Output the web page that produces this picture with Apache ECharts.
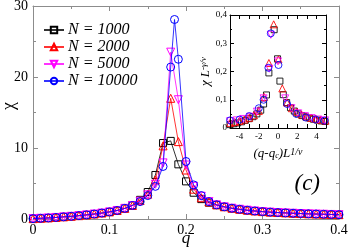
<!DOCTYPE html>
<html><head><meta charset="utf-8">
<script src="https://cdn.jsdelivr.net/npm/echarts@6/dist/echarts.min.js"></script>
<style>html,body{margin:0;padding:0;background:#fff}#c{width:349px;height:248px}</style>
</head><body><div id="c"></div>
<script>
// ---- main panel data ----
const q = [0,0.01,0.02,0.03,0.04,0.05,0.06,0.07,0.08,0.09,0.10,0.11,0.12,0.13,0.14,0.15,0.16,0.17,0.18,0.19,0.20,0.21,0.22,0.23,0.24,0.25,0.26,0.27,0.28,0.29,0.30,0.31,0.32,0.33,0.34,0.35,0.36,0.37,0.38,0.39,0.40];
const chi1000 = [0.05,0.1,0.15,0.22,0.3,0.38,0.47,0.58,0.7,0.84,1.0,1.2,1.5,1.95,2.7,3.8,6.2,10.7,11.0,7.7,5.3,3.7,2.8,2.3,1.95,1.7,1.5,1.35,1.22,1.12,1.03,0.96,0.9,0.85,0.8,0.76,0.72,0.69,0.66,0.63,0.6];
const chi2000 = [0.05,0.1,0.15,0.22,0.3,0.38,0.47,0.58,0.7,0.84,1.0,1.2,1.5,1.9,2.6,3.5,5.5,10.3,17.0,10.9,6.9,4.2,3.0,2.4,2.0,1.72,1.52,1.37,1.24,1.13,1.04,0.97,0.91,0.86,0.81,0.77,0.73,0.7,0.67,0.64,0.61];
const chi5000 = [0.05,0.1,0.15,0.22,0.3,0.38,0.47,0.58,0.7,0.84,1.0,1.2,1.5,1.9,2.5,3.4,4.9,7.9,23.5,16.8,7.6,4.6,3.2,2.45,2.0,1.72,1.52,1.37,1.24,1.13,1.04,0.97,0.91,0.86,0.81,0.77,0.73,0.7,0.67,0.64,0.61];
const q10000 = [0,0.01,0.02,0.03,0.04,0.05,0.06,0.07,0.08,0.09,0.10,0.11,0.12,0.13,0.14,0.15,0.16,0.17,0.18,0.185,0.19,0.20,0.21,0.22,0.23,0.24,0.25,0.26,0.27,0.28,0.29,0.30,0.31,0.32,0.33,0.34,0.35,0.36,0.37,0.38,0.39,0.40];
const chi10000 = [0.05,0.1,0.15,0.22,0.3,0.38,0.47,0.58,0.7,0.84,1.0,1.2,1.5,1.9,2.45,3.3,4.6,7.4,21.4,28.1,22.5,8.1,4.8,3.3,2.45,2.0,1.72,1.52,1.37,1.24,1.13,1.04,0.97,0.91,0.86,0.81,0.77,0.73,0.7,0.67,0.64,0.61];
const seriesNames = ['N = 1000','N = 2000','N = 5000','N = 10000'];
const mainTicksX = [0,0.1,0.2,0.3,0.4];
const mainTicksY = [0,10,20,30];

// ---- inset data (scaled) ----
const ix1000 = [-5.0,-4.6,-4.2,-3.8,-3.4,-3.0,-2.6,-2.2,-1.8,-1.5,-1.2,-0.95,-0.4,-0.05,0.2,0.55,0.9,1.3,1.7,2.1,2.5,2.9,3.3,3.7,4.1,4.5,4.9];
const iy1000 = [0.012,0.015,0.018,0.022,0.027,0.033,0.04,0.05,0.063,0.085,0.117,0.195,0.348,0.245,0.166,0.118,0.09,0.072,0.06,0.05,0.044,0.039,0.035,0.031,0.028,0.025,0.023];
const ix2000 = [-5.0,-4.5,-4.0,-3.5,-3.0,-2.5,-2.0,-1.45,-0.95,-0.45,0.05,0.45,0.95,1.45,1.95,2.45,2.95,3.45,3.95,4.45,4.95];
const iy2000 = [0.018,0.021,0.025,0.03,0.036,0.045,0.06,0.11,0.23,0.367,0.243,0.14,0.09,0.07,0.057,0.048,0.041,0.036,0.032,0.029,0.026];
const ix5000 = [-5.0,-4.3,-3.6,-2.9,-2.2,-1.5,-0.9,-0.75,0.0,0.75,1.4,2.1,2.8,3.5,4.2,4.9];
const iy5000 = [0.024,0.027,0.032,0.04,0.058,0.105,0.21,0.33,0.236,0.105,0.07,0.052,0.042,0.035,0.03,0.027];
const ix10000 = [-5.0,-4.0,-3.0,-2.0,-1.5,-1.0,-0.75,0.05,0.95,1.9,2.9,3.9,4.85];
const iy10000 = [0.027,0.03,0.042,0.07,0.1,0.213,0.335,0.223,0.085,0.05,0.037,0.03,0.026];

const colors = ['#000000','#ff0000','#ff00ff','#0000ff'];
const symbols = ['rect','triangle','triangle','circle'];
const rots = [0,0,180,0];
const serif = 'Liberation Serif, Times New Roman, serif';
const frameGray = '#8c8c8c';

const zip = (a,b) => a.map((v,i)=>[v,b[i]]);
const mainData = [zip(q,chi1000), zip(q,chi2000), zip(q,chi5000), zip(q10000,chi10000)];
const insetData = [zip(ix1000,iy1000), zip(ix2000,iy2000), zip(ix5000,iy5000), zip(ix10000,iy10000)];

function axisBase(color, z){
  return {
    z: z,
    axisLine:{show:true,onZero:false,lineStyle:{color:color,width:1}},
    axisTick:{show:true,inside:true,length:5,lineStyle:{color:color}},
    minorTick:{show:true,splitNumber:2,length:3,lineStyle:{color:color}},
    splitLine:{show:false}
  };
}

const series = [];
mainData.forEach((d,i)=>{
  series.push({
    name: seriesNames[i], type:'line', xAxisIndex:0, yAxisIndex:0, data:d,
    symbol: symbols[i], symbolRotate: rots[i], symbolSize: i===0?7:8,
    showAllSymbol:true,
    lineStyle:{color:colors[i],width:1,opacity:0.8},
    itemStyle:{color:'rgba(255,255,255,0)',borderColor:colors[i],borderWidth:1},
    z: 2+i
  });
});
insetData.forEach((d,i)=>{
  series.push({
    name: 'inset'+i, type:'scatter', xAxisIndex:2, yAxisIndex:2, data:d,
    symbol: symbols[i], symbolRotate: rots[i], symbolSize: i===0?6:7,
    itemStyle:{color:'rgba(255,255,255,0)',borderColor:colors[i],borderWidth:1,opacity:0.85},
    z: 12+i
  });
});

const chart = echarts.init(document.getElementById('c'), null, {renderer:'canvas'});
chart.setOption({
  animation:false,
  backgroundColor:'#fff',
  grid:[
    {left:33, top:6, width:306, height:213, outerBoundsMode:'none', containLabel:false},
    {left:230, top:15, width:96, height:113, show:true, backgroundColor:'#fff', borderWidth:0, z:1, outerBoundsMode:'none', containLabel:false}
  ],
  legend:{
    data: seriesNames, orient:'vertical', left:43, top:22,
    itemWidth:20, itemHeight:8, itemGap:1,
    textStyle:{fontFamily:serif,fontStyle:'italic',fontSize:16,lineHeight:14,color:'#000',padding:[0,0,0,-1]},
    padding:0
  },
  xAxis:[
    Object.assign(axisBase(frameGray,3),{gridIndex:0,type:'value',min:0,max:0.4,interval:0.1,position:'bottom',
      axisLabel:{fontFamily:serif,fontSize:14,color:'#000',margin:4,
        formatter:v=>{const t=mainTicksX.find(x=>Math.abs(x-v)<1e-9);return t===undefined?'':(t===0?'0':t.toFixed(1));}}}),
    Object.assign(axisBase(frameGray,3),{gridIndex:0,type:'value',min:0,max:0.4,interval:0.1,position:'top',axisLabel:{show:false}}),
    Object.assign(axisBase('#000',20),{gridIndex:1,type:'value',min:-5,max:5,interval:1,position:'bottom',
      name:'{a|(q-q}{b|c}{a|)L}{s|1/ν}',nameLocation:'middle',nameGap:19,
      nameTextStyle:{rich:{
        a:{fontFamily:serif,fontStyle:'italic',fontSize:13,color:'#000'},
        b:{fontFamily:serif,fontStyle:'italic',fontSize:8,color:'#000',verticalAlign:'bottom'},
        s:{fontFamily:serif,fontStyle:'italic',fontSize:10,color:'#000',verticalAlign:'top'}}},
      axisTick:{show:true,inside:true,length:4,lineStyle:{color:'#000'}},
      minorTick:{show:false},
      axisLabel:{fontFamily:serif,fontSize:9,color:'#000',margin:4,
        formatter:v=>(Math.abs(v)<5 && Math.round(v)%2===0)?String(Math.round(v)):''}}),
    Object.assign(axisBase('#000',20),{gridIndex:1,type:'value',min:-5,max:5,interval:1,position:'top',
      axisTick:{show:true,inside:true,length:4,lineStyle:{color:'#000'}},minorTick:{show:false},axisLabel:{show:false}})
  ],
  yAxis:[
    Object.assign(axisBase(frameGray,3),{gridIndex:0,type:'value',min:0,max:30,interval:10,position:'left',
      axisLabel:{fontFamily:serif,fontSize:14,color:'#000',margin:5,
        formatter:v=>mainTicksY.includes(v)?String(v):''}}),
    Object.assign(axisBase(frameGray,3),{gridIndex:0,type:'value',min:0,max:30,interval:10,position:'right',axisLabel:{show:false}}),
    Object.assign(axisBase('#000',20),{gridIndex:1,type:'value',min:0,max:0.4,interval:0.1,position:'left',
      name:'{a|χ L}{s|-γ/ν}',nameLocation:'middle',nameGap:16,nameRotate:90,
      nameTextStyle:{rich:{
        a:{fontFamily:serif,fontStyle:'italic',fontSize:13,color:'#000'},
        s:{fontFamily:serif,fontStyle:'italic',fontSize:9,color:'#000',verticalAlign:'top'}}},
      axisTick:{show:true,inside:true,length:4,lineStyle:{color:'#000'}},
      minorTick:{show:true,splitNumber:2,length:2,lineStyle:{color:'#000'}},
      axisLabel:{fontFamily:serif,fontSize:9,color:'#000',margin:3,
        formatter:v=>v===0?'0':v.toFixed(1).replace('.',',')}}),
    Object.assign(axisBase('#000',20),{gridIndex:1,type:'value',min:0,max:0.4,interval:0.1,position:'right',
      axisTick:{show:true,inside:true,length:4,lineStyle:{color:'#000'}},
      minorTick:{show:true,splitNumber:2,length:2,lineStyle:{color:'#000'}},axisLabel:{show:false}})
  ],
  graphic:[
    {type:'text',right:29,top:172,z:20,style:{text:'(c)',font:'italic 23px '+serif,fill:'#000'}},
    {type:'text',x:186,y:239,z:20,style:{text:'q',font:'italic 17px '+serif,fill:'#000',align:'center',verticalAlign:'middle'}},
    {type:'text',x:9,y:106,rotation:Math.PI/2,z:20,style:{text:'χ',font:'18px '+serif,fill:'#000',align:'center',verticalAlign:'middle'}}
  ],
  series: series
});
</script>
</body></html>
